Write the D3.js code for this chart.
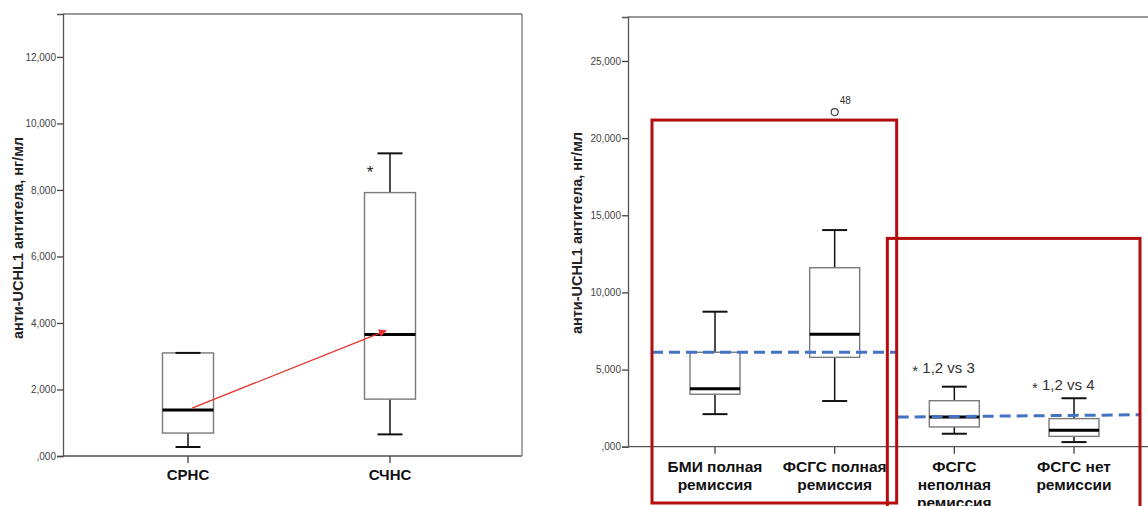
<!DOCTYPE html>
<html>
<head>
<meta charset="utf-8">
<script src="https://cdn.jsdelivr.net/npm/d3@7"></script>
<style>
  html, body { margin: 0; padding: 0; background: #fff; }
  svg { display: block; font-family: "Liberation Sans", Arial, sans-serif; }
</style>
</head>
<body>
<div id="chart"></div>
<script>
// левая панель: СРНС vs СЧНС
const leftCats = ["СРНС", "СЧНС"];
const leftLow = [0.27, 0.65];
const leftQ1 = [0.69, 1.71];
const leftMed = [1.38, 3.65];
const leftQ3 = [3.10, 7.92];
const leftHigh = [3.10, 9.10];
const leftTicks = [0, 2, 4, 6, 8, 10, 12];

// правая панель: 4 группы
const rightCats = [
    ["БМИ полная", "ремиссия"],
    ["ФСГС полная", "ремиссия"],
    ["ФСГС", "неполная", "ремиссия"],
    ["ФСГС нет", "ремиссии"]
];
const rightLow = [2.11, 2.96, 0.84, 0.30];
const rightQ1 = [3.40, 5.79, 1.28, 0.67];
const rightMed = [3.76, 7.29, 1.92, 1.06];
const rightQ3 = [6.12, 11.60, 2.98, 1.82];
const rightHigh = [8.75, 14.04, 3.89, 3.14];
const rightTicks = [0, 5, 10, 15, 20, 25];
const outlierVal = 21.69;
const outlierLabel = "48";

const yTitle = "анти-UCHL1 антитела, нг/мл";

const svg = d3.select("#chart").append("svg")
    .attr("width", 1148)
    .attr("height", 506);

svg.append("defs").append("marker")
    .attr("id", "arrow")
    .attr("viewBox", "0 0 10 10")
    .attr("refX", 9).attr("refY", 5)
    .attr("markerWidth", 7).attr("markerHeight", 6)
    .attr("orient", "auto")
    .append("path").attr("d", "M0,0L10,5L0,10Z").attr("fill", "#e5322b");

// формат меток как в SPSS: 12,000 / ,000
const fmt = v => (v === 0 ? "" : v) + ",000";

function drawPanel(o) {
    const g = svg.append("g");
    const x = d3.scalePoint().domain(d3.range(o.n)).range(o.xRange);
    const y = d3.scaleLinear().domain([0, o.yMax]).range([o.bottom, o.top]);

    // рамка
    g.append("line").attr("x1", o.left).attr("x2", o.right).attr("y1", o.top).attr("y2", o.top)
        .attr("stroke", "#777").attr("stroke-width", 1.3);
    if (o.right < 1148) {
        g.append("line").attr("x1", o.right).attr("x2", o.right).attr("y1", o.top).attr("y2", o.bottom)
            .attr("stroke", "#777").attr("stroke-width", 1.3);
    }

    const yAxis = g.append("g").attr("transform", `translate(${o.left},0)`)
        .call(d3.axisLeft(y).tickValues(o.ticks).tickFormat(fmt).tickSize(6).tickPadding(1));
    yAxis.select(".domain").attr("stroke", "#555").attr("stroke-width", 1.3);
    yAxis.selectAll(".tick line").attr("stroke", "#444").attr("stroke-width", 1.3);
    yAxis.selectAll(".tick text").attr("fill", "#444").style("font-size", "10px");

    g.append("line").attr("x1", o.left).attr("x2", o.right).attr("y1", o.bottom).attr("y2", o.bottom)
        .attr("stroke", "#555").attr("stroke-width", 1.3);
    g.selectAll(".xt").data(d3.range(o.n)).join("line")
        .attr("x1", d => x(d)).attr("x2", d => x(d))
        .attr("y1", o.bottom).attr("y2", o.bottom + 7)
        .attr("stroke", "#444").attr("stroke-width", 1.3);

    // заголовок оси Y
    g.append("text")
        .attr("transform", `translate(${o.titleX},${o.titleY}) rotate(-90)`)
        .attr("text-anchor", "middle")
        .attr("font-weight", "bold")
        .attr("font-size", 14.5)
        .attr("fill", "#222")
        .text(yTitle);

    // подписи категорий
    const lab = g.selectAll(".xl").data(o.cats).join("text")
        .attr("x", (d, i) => x(i))
        .attr("y", o.labelY)
        .attr("text-anchor", "middle")
        .attr("font-weight", "bold")
        .attr("font-size", o.labelSize)
        .attr("fill", "#111");
    lab.selectAll("tspan").data(d => Array.isArray(d) ? d : [d]).join("tspan")
        .attr("x", function() { return d3.select(this.parentNode).attr("x"); })
        .attr("dy", (d, i) => i === 0 ? 0 : 18)
        .text(d => d);

    // боксы
    const hw = o.boxW / 2, cw = 12.5;
    const b = g.selectAll(".box").data(d3.range(o.n)).join("g");
    b.append("line").attr("x1", i => x(i)).attr("x2", i => x(i))
        .attr("y1", i => y(o.high[i])).attr("y2", i => y(o.q3[i]))
        .attr("stroke", "#111").attr("stroke-width", 1.5);
    b.append("line").attr("x1", i => x(i)).attr("x2", i => x(i))
        .attr("y1", i => y(o.q1[i])).attr("y2", i => y(o.low[i]))
        .attr("stroke", "#111").attr("stroke-width", 1.5);
    b.append("rect")
        .attr("x", i => x(i) - hw).attr("width", o.boxW)
        .attr("y", i => y(o.q3[i])).attr("height", i => y(o.q1[i]) - y(o.q3[i]))
        .attr("fill", "#fff").attr("stroke", "#7a7a7a").attr("stroke-width", 1.4);
    b.append("line").attr("x1", i => x(i) - hw).attr("x2", i => x(i) + hw)
        .attr("y1", i => y(o.med[i])).attr("y2", i => y(o.med[i]))
        .attr("stroke", "#000").attr("stroke-width", 3);
    ["high", "low"].forEach(k => {
        b.append("line").attr("x1", i => x(i) - cw).attr("x2", i => x(i) + cw)
            .attr("y1", i => y(o[k][i])).attr("y2", i => y(o[k][i]))
            .attr("stroke", "#111").attr("stroke-width", 2);
    });

    return {g, x, y};
}

// ---------- левая панель ----------
const L = drawPanel({
    n: leftCats.length, cats: leftCats,
    low: leftLow, q1: leftQ1, med: leftMed, q3: leftQ3, high: leftHigh,
    ticks: leftTicks, yMax: 13.29,
    left: 63, right: 522, top: 14, bottom: 456,
    xRange: [188, 390], boxW: 51,
    titleX: 23, titleY: 238,
    labelY: 480, labelSize: 15
});

// звездочка над СЧНС
L.g.append("text")
    .attr("x", L.x(1) - 20).attr("y", L.y(8.64) + 9)
    .attr("text-anchor", "middle").attr("font-size", 17).attr("fill", "#222")
    .text("*");

// красная стрелка между медианами
L.g.append("line")
    .attr("x1", L.x(0) + 4).attr("y1", L.y(1.44))
    .attr("x2", L.x(1) - 4).attr("y2", L.y(3.77))
    .attr("stroke", "#e5322b").attr("stroke-width", 1.3)
    .attr("marker-end", "url(#arrow)");

// ---------- правая панель ----------
const R = drawPanel({
    n: rightCats.length, cats: rightCats,
    low: rightLow, q1: rightQ1, med: rightMed, q3: rightQ3, high: rightHigh,
    ticks: rightTicks, yMax: 27.85,
    left: 628, right: 1160, top: 17, bottom: 446.7,
    xRange: [715, 1074], boxW: 50,
    titleX: 582, titleY: 233,
    labelY: 472, labelSize: 15.5
});

// выброс
R.g.append("circle")
    .attr("cx", R.x(1)).attr("cy", R.y(outlierVal)).attr("r", 3.5)
    .attr("fill", "#fff").attr("stroke", "#444").attr("stroke-width", 1.2);
R.g.append("text")
    .attr("x", R.x(1) + 5).attr("y", R.y(outlierVal) - 8)
    .attr("font-size", 10).attr("fill", "#333")
    .text(outlierLabel);

// синие пунктирные линии
R.g.append("line")
    .attr("x1", R.x(0) - 63).attr("x2", R.x(1) + 62)
    .attr("y1", R.y(6.12)).attr("y2", R.y(6.12))
    .attr("stroke", "#4472c4").attr("stroke-width", 3).attr("stroke-dasharray", "11,6");
R.g.append("line")
    .attr("x1", R.x(1) + 63).attr("x2", R.x(3) + 66)
    .attr("y1", R.y(1.92)).attr("y2", R.y(2.07))
    .attr("stroke", "#4472c4").attr("stroke-width", 3).attr("stroke-dasharray", "11,6");

// подписи значимости
[[2, "1,2 vs 3", 4.78], [3, "1,2 vs 4", 3.68]].forEach(([i, t, v]) => {
    const tx = R.g.append("text")
        .attr("x", R.x(i) - 42).attr("y", R.y(v))
        .attr("font-size", 15).attr("fill", "#333");
    tx.append("tspan").attr("font-size", 15).attr("dy", 3).text("*");
    tx.append("tspan").attr("dy", -3).text(" " + t);
});

// красные рамки
R.g.append("rect")
    .attr("x", R.x(0) - 63).attr("y", R.y(21.17))
    .attr("width", R.x(1) - R.x(0) + 125).attr("height", 503 - R.y(21.17))
    .attr("fill", "none").attr("stroke", "#b50d0d").attr("stroke-width", 3);
R.g.append("rect")
    .attr("x", R.x(2) - 67).attr("y", R.y(13.5))
    .attr("width", R.x(3) - R.x(2) + 133).attr("height", 300)
    .attr("fill", "none").attr("stroke", "#b50d0d").attr("stroke-width", 3);
</script>
</body>
</html>
